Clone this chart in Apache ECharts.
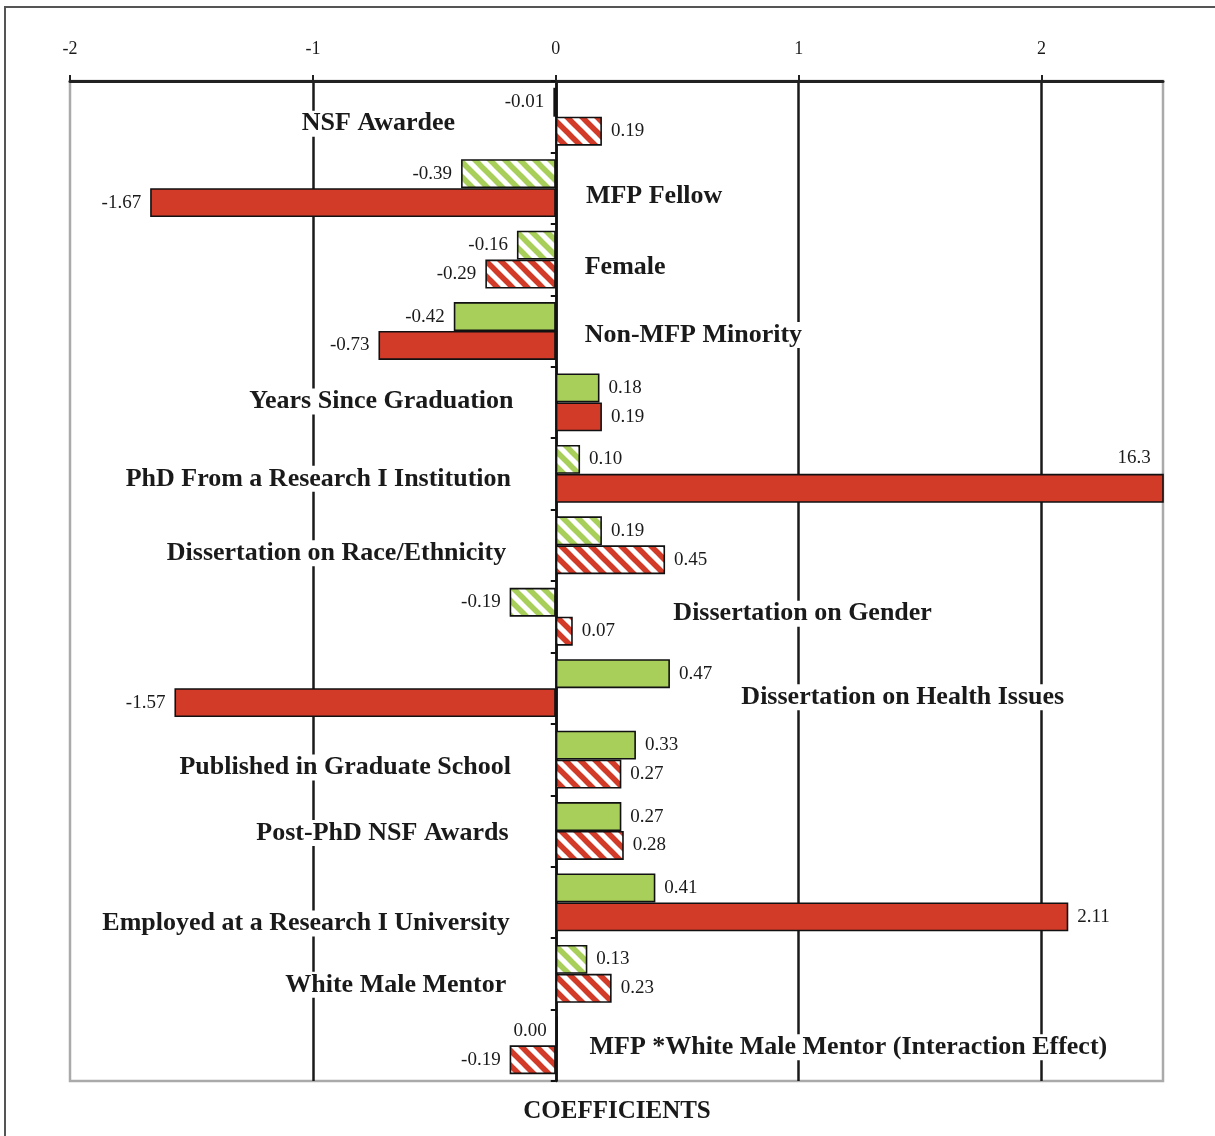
<!DOCTYPE html>
<html>
<head>
<meta charset="utf-8">
<script src="https://cdn.jsdelivr.net/npm/echarts@6/dist/echarts.min.js"></script>
<style>
  html, body { margin: 0; padding: 0; background: #fff; }
  #chart { width: 1215px; height: 1136px; }
</style>
</head>
<body>
<div id="chart"></div>
<script>
// categories, top to bottom
const categories = [
    'NSF Awardee',
    'MFP Fellow',
    'Female',
    'Non-MFP Minority',
    'Years Since Graduation',
    'PhD From a Research I Institution',
    'Dissertation on Race/Ethnicity',
    'Dissertation on Gender',
    'Dissertation on Health Issues',
    'Published in Graduate School',
    'Post-PhD NSF Awards',
    'Employed at a Research I University',
    'White Male Mentor',
    'MFP *White Male Mentor (Interaction Effect)'
];

// green series coefficients and whether the bar is solid (else hatched)
const greenValues = [-0.01, -0.39, -0.16, -0.42, 0.18, 0.10, 0.19, -0.19, 0.47, 0.33, 0.27, 0.41, 0.13, 0.00];
const greenSolid  = [true, false, false, true, true, false, false, false, true, true, true, true, false, true];

// red series coefficients and whether the bar is solid (else hatched)
const redValues = [0.19, -1.67, -0.29, -0.73, 0.19, 16.3, 0.45, 0.07, -1.57, 0.27, 0.28, 2.11, 0.23, -0.19];
const redSolid  = [false, true, false, true, true, true, false, false, true, false, false, true, false, false];

const xTicks = [-2, -1, 0, 1, 2];

// where each category name sits (axis units), which way it is aligned, and a small vertical nudge
const labelAnchor = [-0.73, 0.12, 0.115, 0.115, -0.17, -0.18, -0.2, 0.48, 0.76, -0.18, -0.19, -0.185, -0.2, 0.135];
const labelAlign  = ['center', 'left', 'left', 'left', 'right', 'right', 'right', 'left', 'left', 'right', 'right', 'right', 'right', 'left'];
const labelDy     = [7, 8, 8, 4, -1, 5, 8, -3, 9, 8, 2, 21, 11, 2];

const GREEN = '#a8cf5a';
const RED = '#d23b28';
const SERIF = '"Liberation Serif", "DejaVu Serif", serif';

function stripes(color) {
    const s = 15;
    const c = document.createElement('canvas');
    c.width = s;
    c.height = s;
    const ctx = c.getContext('2d');
    ctx.fillStyle = '#fff';
    ctx.fillRect(0, 0, s, s);
    ctx.strokeStyle = color;
    ctx.lineWidth = 5.5;
    [-s, 0, s].forEach(function (o) {
        ctx.beginPath();
        ctx.moveTo(o - 2, -2);
        ctx.lineTo(o + s + 2, s + 2);
        ctx.stroke();
    });
    return { image: c, repeat: 'repeat' };
}

function fmt(v) {
    return v === 16.3 ? '16.3' : v.toFixed(2);
}

function barData(values, solid, color) {
    const hatch = stripes(color);
    return values.map(function (v, i) {
        const item = {
            value: v,
            itemStyle: { color: solid[i] ? color : hatch },
            label: { position: v > 0 ? 'right' : 'left' }
        };
        if (v > 2.5) {
            item.label = { position: 'insideTopRight', offset: [-4, -34] };
        }
        return item;
    });
}

const chart = echarts.init(document.getElementById('chart'));

const valueLabel = {
    show: true,
    fontFamily: SERIF,
    fontSize: 19,
    color: '#1a1a1a',
    distance: 9,
    formatter: function (p) { return fmt(p.value); }
};

const option = {
    animation: false,
    backgroundColor: '#fff',
    title: {
        text: 'COEFFICIENTS',
        left: 612,
        textAlign: 'center',
        top: 1094,
        textStyle: { fontFamily: SERIF, fontSize: 25, fontWeight: 'bold', color: '#1a1a1a' }
    },
    graphic: [{
        type: 'rect',
        shape: { x: 5, y: 7, width: 1230, height: 1150 },
        style: { fill: 'none', stroke: '#555', lineWidth: 2 },
        silent: true
    }],
    grid: {
        left: 70, right: 52, top: 81, bottom: 55,
        show: true,
        borderColor: '#aaa',
        borderWidth: 2.5
    },
    xAxis: {
        type: 'value',
        position: 'top',
        min: -2,
        max: 2.5,
        interval: 1,
        axisLine: { show: true, lineStyle: { color: '#222', width: 3 } },
        axisTick: { show: true, length: 6, lineStyle: { color: '#222', width: 2 } },
        axisLabel: {
            margin: 23,
            showMaxLabel: false,
            fontFamily: SERIF,
            fontSize: 18,
            color: '#1a1a1a',
            formatter: function (v) { return xTicks.indexOf(v) >= 0 ? String(v) : ''; }
        },
        splitLine: {
            show: true,
            showMinLine: false,
            showMaxLine: false,
            lineStyle: { color: '#1a1a1a', width: 2.5 }
        }
    },
    yAxis: {
        type: 'category',
        inverse: true,
        data: categories,
        axisLine: { show: true, onZero: true, lineStyle: { color: '#111', width: 2.5 } },
        axisTick: { show: true, length: 5, lineStyle: { color: '#111', width: 2 } },
        axisLabel: { show: false },
        splitLine: { show: false }
    },
    series: [
        {
            name: 'green',
            type: 'bar',
            barGap: '0%',
            barCategoryGap: '19%',
            barMinHeight: 2,
            data: barData(greenValues, greenSolid, GREEN),
            itemStyle: { borderColor: '#111', borderWidth: 1.6 },
            label: valueLabel
        },
        {
            name: 'red',
            type: 'bar',
            data: barData(redValues, redSolid, RED),
            itemStyle: { borderColor: '#111', borderWidth: 1.6 },
            label: valueLabel
        },
        {
            name: 'names',
            type: 'custom',
            z: 5,
            data: categories.map(function (c, i) { return [labelAnchor[i], i]; }),
            renderItem: function (params, api) {
                const i = params.dataIndex;
                const p = api.coord([api.value(0), categories[i]]);
                return {
                    type: 'text',
                    x: p[0],
                    y: p[1] + labelDy[i],
                    style: {
                        text: categories[i],
                        fontFamily: SERIF,
                        fontSize: 26,
                        fontWeight: 'bold',
                        fill: '#1a1a1a',
                        align: labelAlign[i],
                        verticalAlign: 'middle',
                        backgroundColor: '#fff',
                        padding: [0, 1]
                    }
                };
            }
        }
    ]
};

chart.setOption(option);
</script>
</body>
</html>
